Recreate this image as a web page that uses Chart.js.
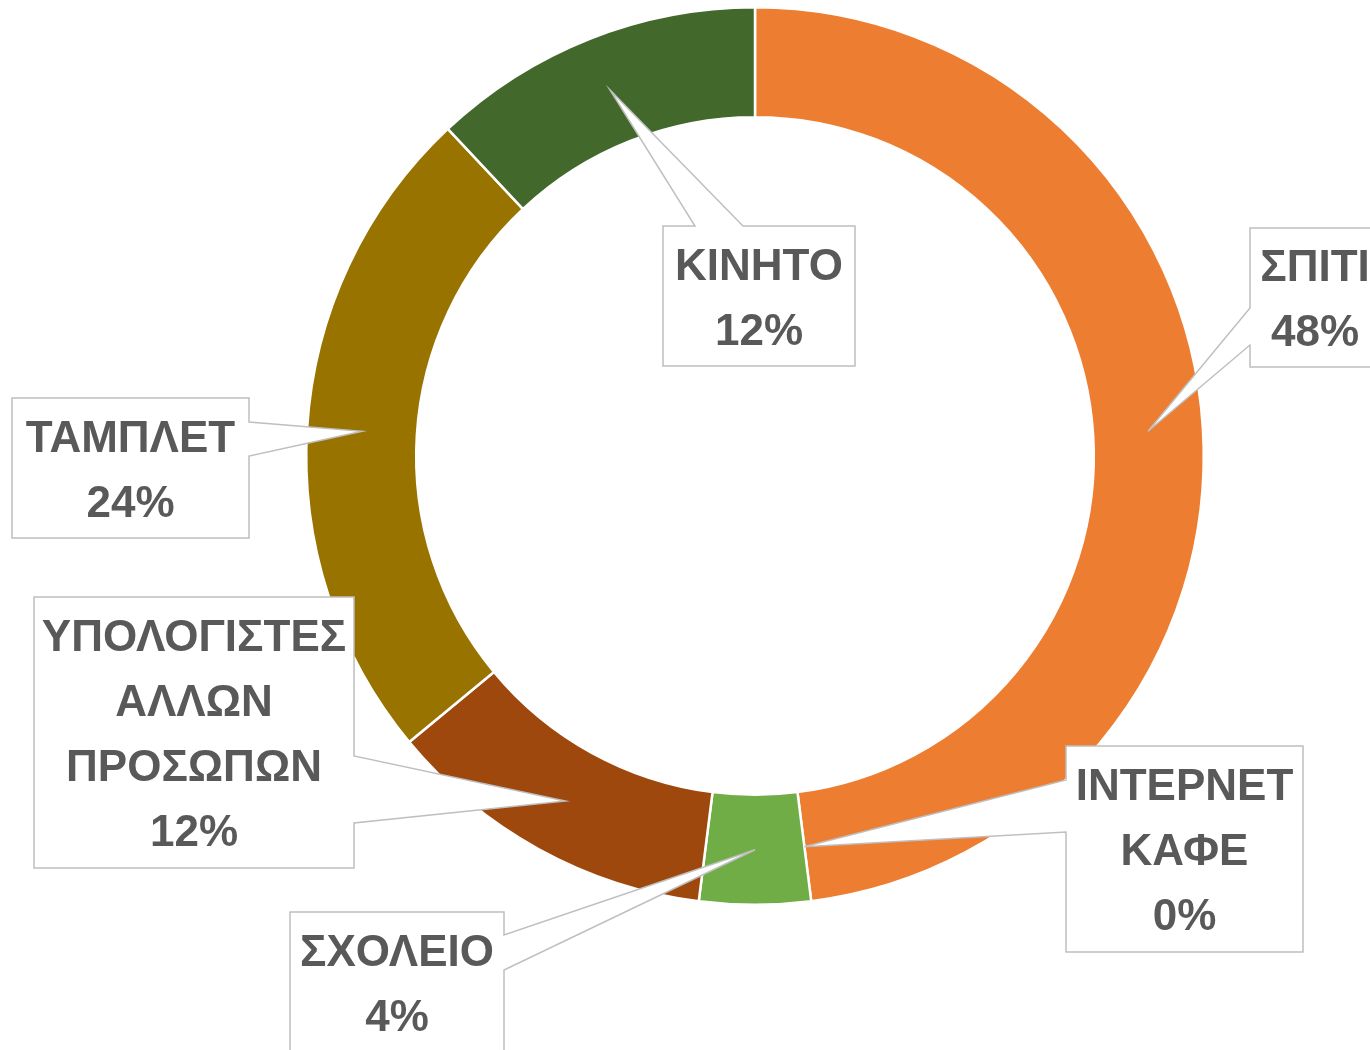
<!DOCTYPE html>
<html>
<head>
<meta charset="utf-8">
<script src="https://cdn.jsdelivr.net/npm/chart.js"></script>
<style>
  body { margin: 0; background: #fff; }
  #wrap { width: 1370px; height: 1050px; position: relative; }
</style>
</head>
<body>
<div id="wrap"><canvas id="myChart"></canvas></div>
<script>
const categories = ["ΣΠΙΤΙ", "ΙΝΤΕΡΝΕΤ ΚΑΦΕ", "ΣΧΟΛΕΙΟ", "ΥΠΟΛΟΓΙΣΤΕΣ ΑΛΛΩΝ ΠΡΟΣΩΠΩΝ", "ΤΑΜΠΛΕΤ", "ΚΙΝΗΤΟ"]
const answers = [12, 0, 1, 3, 6, 3]
const colors = ["#ED7D31", "#4472C4", "#70AD47", "#9E480E", "#997300", "#43682B"]

// callout boxes (layout only): box, which side the pointer leaves from, and where on that side
const callouts = [
  {x: 1250, y: 228, w: 130, h: 139, side: "left", a: 80, b: 117},
  {x: 1066, y: 746, w: 237, h: 206, side: "left", a: 34, b: 86},
  {x: 290, y: 912, w: 214, h: 140, side: "right", a: 23, b: 58},
  {x: 34, y: 597, w: 320, h: 271, side: "right", a: 159, b: 226},
  {x: 12, y: 398, w: 237, h: 140, side: "right", a: 24, b: 58},
  {x: 663, y: 226, w: 192, h: 140, side: "top", a: 32, b: 80}
]

function calloutPath(ctx, c, tip) {
  const {x, y, w, h, side, a, b} = c
  ctx.beginPath()
  ctx.moveTo(x, y)
  if (side == "top") { ctx.lineTo(x + a, y); ctx.lineTo(tip.x, tip.y); ctx.lineTo(x + b, y) }
  ctx.lineTo(x + w, y)
  if (side == "right") { ctx.lineTo(x + w, y + a); ctx.lineTo(tip.x, tip.y); ctx.lineTo(x + w, y + b) }
  ctx.lineTo(x + w, y + h)
  ctx.lineTo(x, y + h)
  if (side == "left") { ctx.lineTo(x, y + b); ctx.lineTo(tip.x, tip.y); ctx.lineTo(x, y + a) }
  ctx.closePath()
}

const calloutPlugin = {
  id: "callouts",
  afterDraw(chart) {
    const ctx = chart.ctx
    const arcs = chart.getDatasetMeta(0).data
    const total = answers.reduce((s, v) => s + v, 0)
    ctx.save()
    arcs.forEach((arc, i) => {
      const c = callouts[i]
      const tip = arc.getCenterPoint()
      calloutPath(ctx, c, tip)
      ctx.fillStyle = "#ffffff"
      ctx.fill()
      ctx.strokeStyle = "#BFBFBF"
      ctx.lineWidth = 1.5
      ctx.lineJoin = "miter"
      ctx.stroke()

      const lines = categories[i].split(" ").concat([Math.round(answers[i] / total * 100) + "%"])
      ctx.fillStyle = "#595959"
      ctx.font = "bold 44px 'Liberation Sans', Arial, sans-serif"
      ctx.textAlign = "center"
      ctx.textBaseline = "middle"
      const lh = 65
      let ty = c.y + c.h / 2 - (lines.length - 1) * lh / 2
      lines.forEach(t => {
        ctx.fillText(t, c.x + c.w / 2, ty + 4)
        ty += lh
      })
    })
    ctx.restore()
  }
}

const ctx = document.getElementById("myChart").getContext("2d")
const myChart = new Chart(ctx, {
  type: "doughnut",
  data: {
    labels: categories,
    datasets: [{
      data: answers,
      backgroundColor: colors,
      borderColor: "#ffffff",
      borderWidth: 2.5
    }]
  },
  options: {
    responsive: true,
    maintainAspectRatio: false,
    animation: false,
    cutout: "75.5%",
    layout: { padding: { left: 305, right: 165, top: 6, bottom: 144 } },
    plugins: {
      legend: { display: false },
      tooltip: { enabled: false }
    }
  },
  plugins: [calloutPlugin]
})
</script>
</body>
</html>
